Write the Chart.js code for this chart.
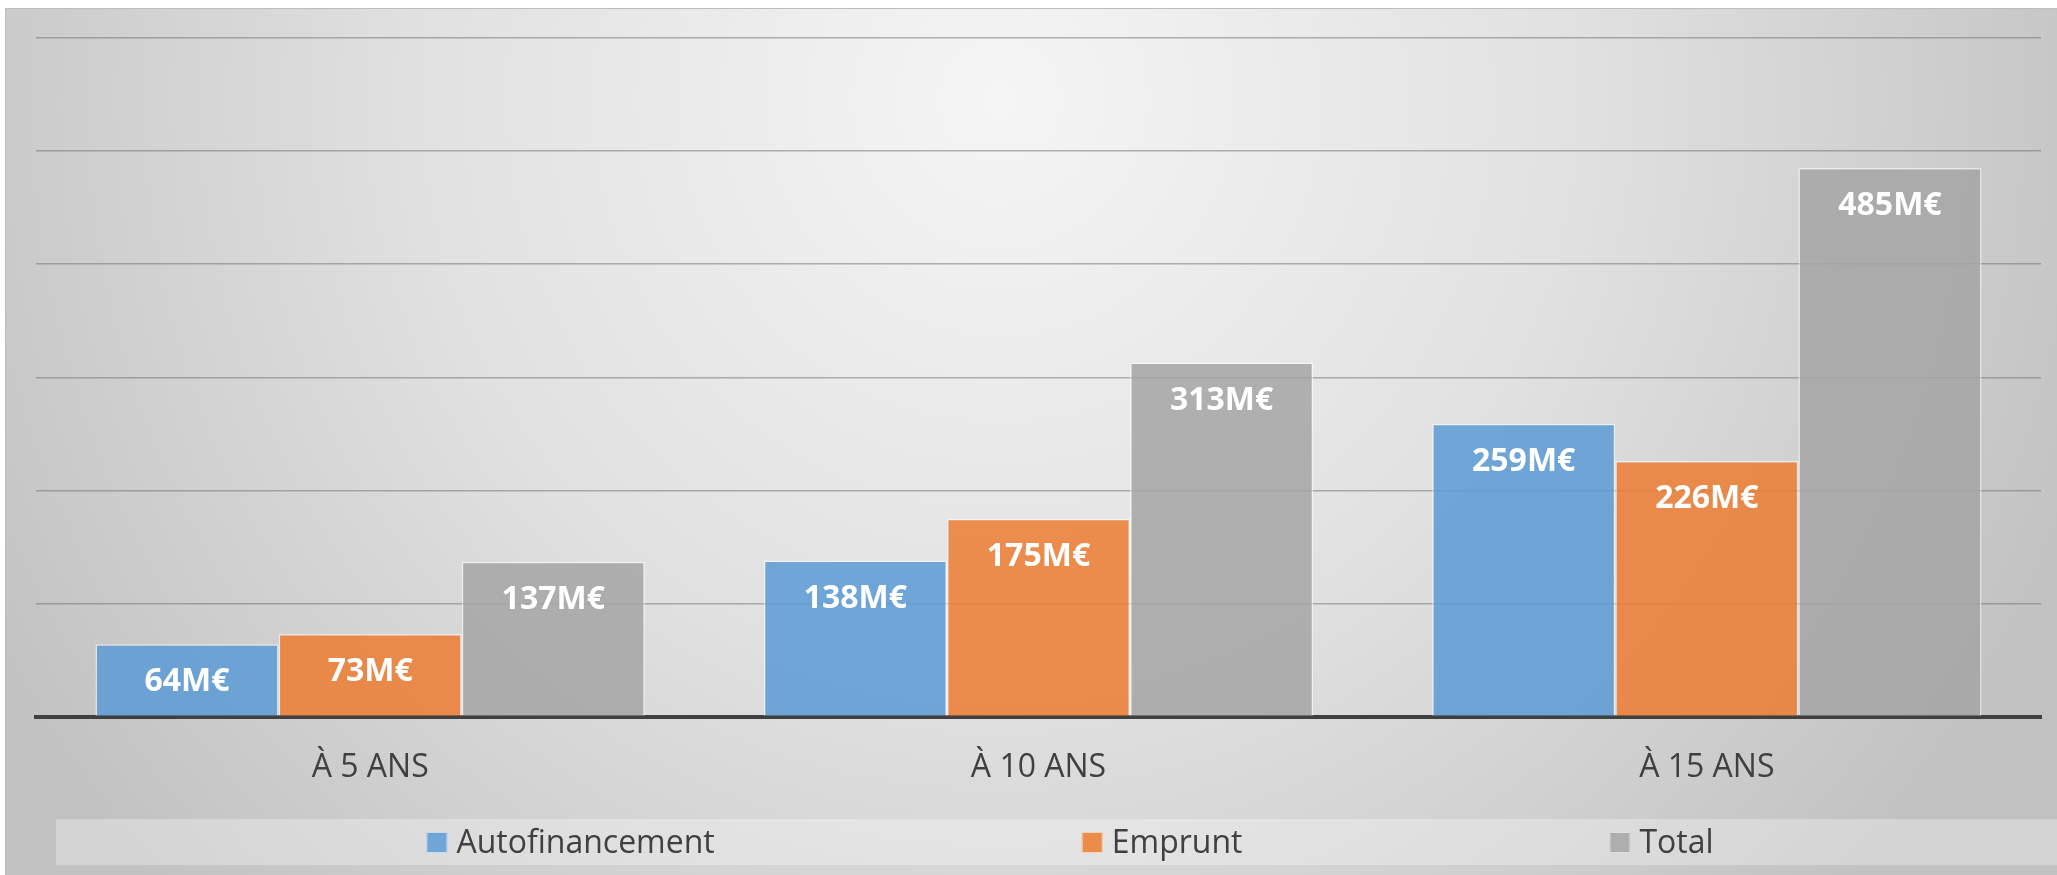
<!DOCTYPE html>
<html>
<head>
<meta charset="utf-8">
<script src="https://cdn.jsdelivr.net/npm/chart.js@4"></script>
<style>
    body { margin: 0; background: #fff; }
</style>
</head>
<body>
<canvas id="chart" width="2057" height="875"></canvas>
<script>
var categories = ['À 5 ANS', 'À 10 ANS', 'À 15 ANS']
var autofinancement = [64, 138, 259]
var emprunt = [73, 175, 226]
var total = [137, 313, 485]
var yTicks = [0, 100, 200, 300, 400, 500, 600]

Chart.defaults.font.family = "'Open Sans', 'Noto Sans', sans-serif"

// background of the whole picture (light in the top middle, darker at the edges)
var backgroundPlugin = {
    id: 'background',
    beforeDraw: function(chart) {
        var ctx = chart.ctx
        ctx.save()
        ctx.fillStyle = '#fff'
        ctx.fillRect(0, 0, chart.width, chart.height)
        var g = ctx.createRadialGradient(1000, 100, 0, 1000, 100, 1150)
        g.addColorStop(0, '#f5f5f5')
        g.addColorStop(0.5, '#e1e1e1')
        g.addColorStop(1, '#c2c2c2')
        ctx.fillStyle = g
        ctx.fillRect(5, 8, chart.width - 5, chart.height - 8)
        ctx.strokeStyle = '#bdbdbd'
        ctx.lineWidth = 1
        ctx.beginPath()
        ctx.moveTo(5.5, chart.height)
        ctx.lineTo(5.5, 8.5)
        ctx.lineTo(chart.width, 8.5)
        ctx.stroke()
        ctx.restore()
    }
}

// white value labels inside the top of every bar
var valueLabels = {
    id: 'valueLabels',
    afterDatasetsDraw: function(chart) {
        var ctx = chart.ctx
        ctx.save()
        ctx.font = "bold 32px 'Open Sans'"
        ctx.fillStyle = '#fff'
        ctx.textAlign = 'center'
        ctx.textBaseline = 'alphabetic'
        chart.data.datasets.forEach(function(ds, i) {
            chart.getDatasetMeta(i).data.forEach(function(bar, j) {
                ctx.fillText(ds.data[j] + 'M€', bar.x, bar.y + 47)
            })
        })
        ctx.restore()
    }
}

// legend strip at the bottom, drawn by hand so the spacing matches
var legendStrip = {
    id: 'legendStrip',
    afterDraw: function(chart) {
        var ctx = chart.ctx
        var bandTop = 819, bandH = 46, gap = 367, box = 21, textGap = 9
        ctx.save()
        ctx.fillStyle = 'rgba(255,255,255,0.3)'
        ctx.fillRect(56, bandTop, chart.width - 56, bandH)
        ctx.font = "32px 'Open Sans'"
        var widths = chart.data.datasets.map(function(ds) {
            return box + textGap + ctx.measureText(ds.label).width
        })
        var full = widths.reduce(function(a, b) { return a + b }, 0) + gap * (widths.length - 1)
        var x = 1070 - full / 2
        chart.data.datasets.forEach(function(ds, i) {
            ctx.fillStyle = ds.legendColor
            ctx.fillRect(x, 832, box, box)
            ctx.strokeStyle = 'rgba(255,255,255,0.6)'
            ctx.lineWidth = 1
            ctx.strokeRect(x + 0.5, 832.5, box - 1, box - 1)
            ctx.fillStyle = '#404040'
            ctx.textBaseline = 'alphabetic'
            ctx.fillText(ds.label, x + box + textGap, 853)
            x += widths[i] + gap
        })
        ctx.restore()
    }
}

var ctx = document.getElementById('chart').getContext('2d')

var chart = new Chart(ctx, {
    type: 'bar',
    data: {
        labels: categories,
        datasets: [{
            label: 'Autofinancement',
            data: autofinancement,
            backgroundColor: 'rgba(91,155,213,0.85)',
            legendColor: '#6fa5d7'
        }, {
            label: 'Emprunt',
            data: emprunt,
            backgroundColor: 'rgba(237,125,49,0.85)',
            legendColor: '#eb8c4b'
        }, {
            label: 'Total',
            data: total,
            backgroundColor: 'rgba(165,165,165,0.85)',
            legendColor: '#aeaeae'
        }]
    },
    options: {
        responsive: false,
        animation: false,
        layout: {
            padding: { left: 36, right: 16, top: 38, bottom: 64 }
        },
        datasets: {
            bar: {
                categoryPercentage: 0.822,
                barPercentage: 1,
                borderWidth: 1.5,
                borderColor: 'rgba(255,255,255,0.55)'
            }
        },
        scales: {
            x: {
                grid: { display: false },
                border: { display: true, color: '#404040', width: 4 },
                ticks: {
                    padding: 24,
                    color: '#404040',
                    font: { size: 32 }
                }
            },
            y: {
                min: yTicks[0],
                max: yTicks[yTicks.length - 1],
                afterBuildTicks: function(axis) {
                    axis.ticks = yTicks.map(function(v) { return { value: v } })
                },
                ticks: { display: false },
                border: { display: false },
                grid: {
                    color: 'rgba(110,110,110,0.5)',
                    lineWidth: 1.5,
                    drawTicks: false
                }
            }
        },
        plugins: {
            legend: { display: false },
            tooltip: { enabled: false }
        }
    },
    plugins: [backgroundPlugin, valueLabels, legendStrip]
})
</script>
</body>
</html>
